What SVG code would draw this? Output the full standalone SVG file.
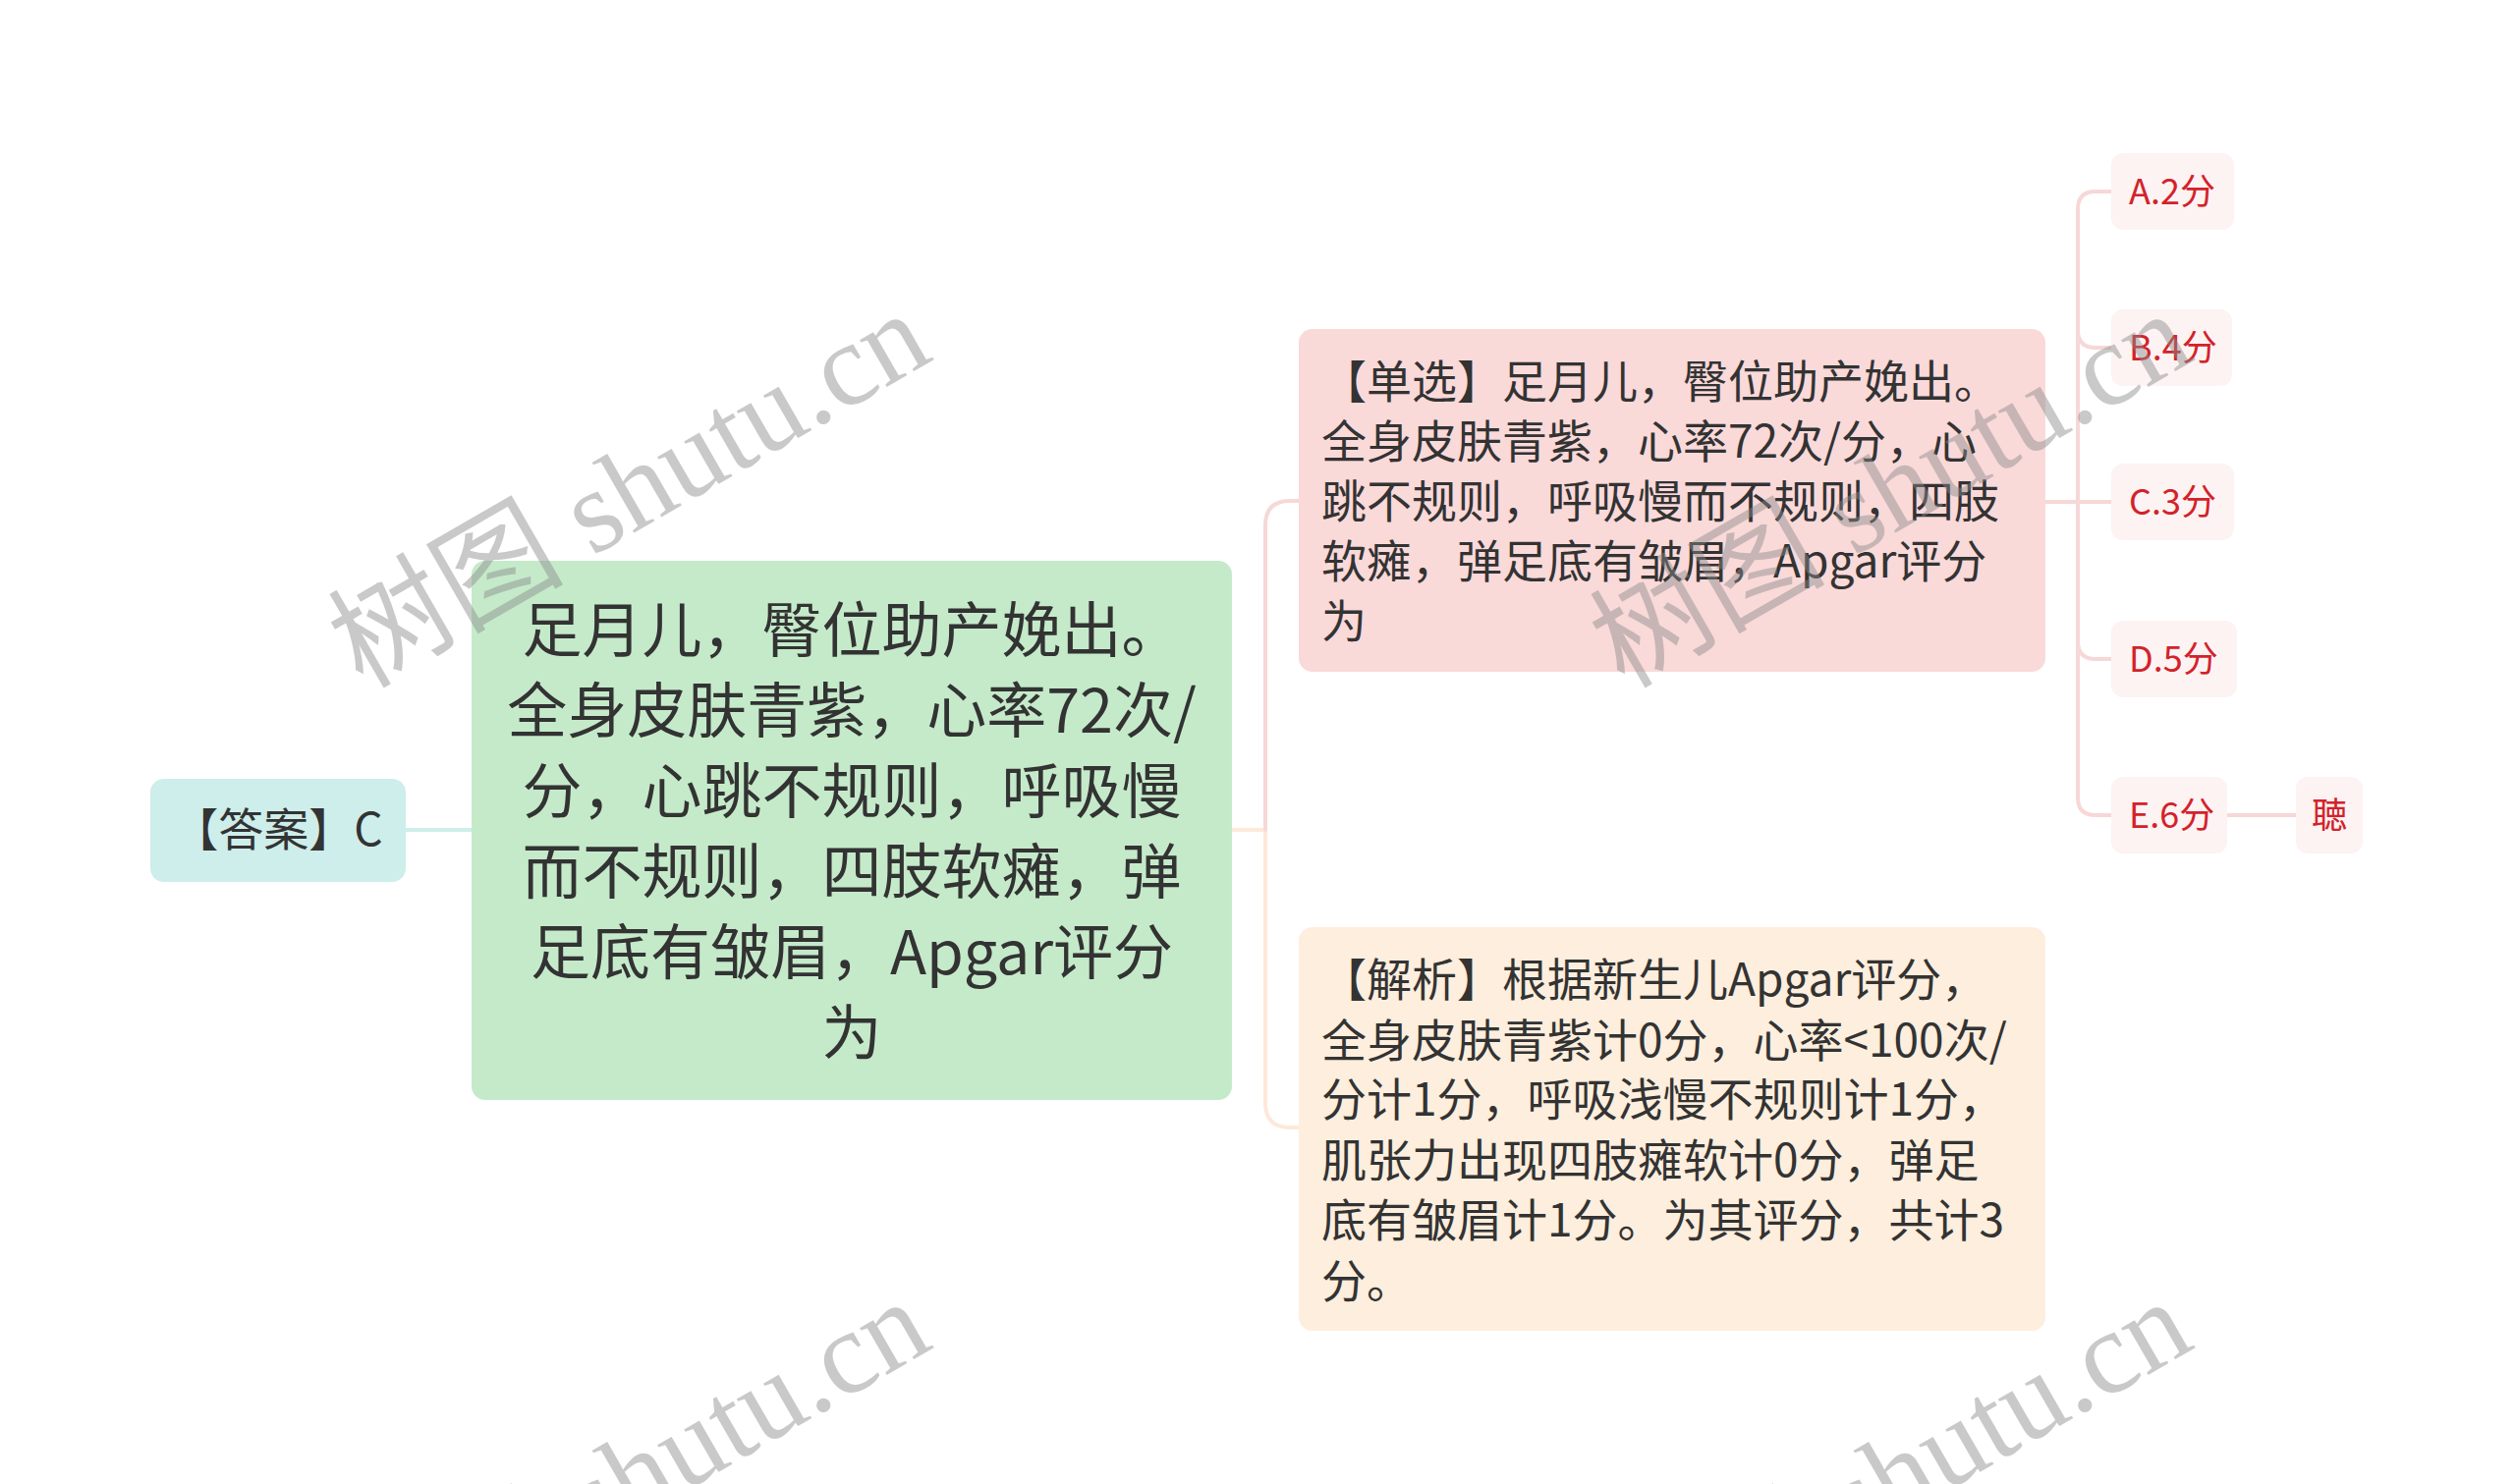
<svg xmlns="http://www.w3.org/2000/svg" width="2560" height="1511" viewBox="0 0 2560 1511">
<style>
.t{font-family:"Noto Sans CJK SC","Noto Sans",sans-serif;fill:#333333}
.main{font-size:61px;text-anchor:middle}
.sub{font-size:46px}
.opt{font-family:"Noto Sans CJK SC","Noto Sans",sans-serif;font-size:36px;fill:#d3222a}
.c{fill:none;stroke-width:4;stroke-linecap:round}
.wm{font-family:"Liberation Serif","Noto Sans CJK SC",serif;font-size:120px;fill:#8a8a8a;opacity:0.45}
.ob{fill:#fdf3f3}
</style>
<rect width="2560" height="1511" fill="#ffffff"/>
<g id="connectors">
<path class="c" stroke="#cdeeea" d="M413 845 H480"/>
<path class="c" stroke="#fde9da" d="M1255 845 H1288 V1123 Q1288 1148 1313 1148 H1322"/>
<path class="c" stroke="#f7d7d7" d="M1288 845 V535 Q1288 510 1313 510 H1322"/>
<path class="c" stroke="#f7d7d7" d="M2082 511 H2149"/>
<path class="c" stroke="#f7d7d7" d="M2149 195 H2133 Q2115 195 2115 213 V812 Q2115 830 2133 830 H2149"/>
<path class="c" stroke="#f7d7d7" d="M2115 336 Q2115 354 2133 354 H2149"/>
<path class="c" stroke="#f7d7d7" d="M2115 653 Q2115 671 2133 671 H2149"/>
<path class="c" stroke="#f7d7d7" d="M2267 830 H2337"/>
</g>
<g id="answer">
<rect x="153" y="793" width="260" height="105" rx="14" fill="#cdeeea"/>
<text class="t sub" x="283" y="861" text-anchor="middle">【答案】C</text>
</g>
<g id="main">
<rect x="480" y="571" width="774" height="549" rx="14" fill="#c5eaca"/>
<text class="t main" x="867" y="664">足月儿，臀位助产娩出。</text>
<text class="t main" x="867" y="746">全身皮肤青紫，心率72次/</text>
<text class="t main" x="867" y="828">分，心跳不规则，呼吸慢</text>
<text class="t main" x="867" y="910">而不规则，四肢软瘫，弹</text>
<text class="t main" x="867" y="992">足底有皱眉，Apgar评分</text>
<text class="t main" x="867" y="1074">为</text>
</g>
<g id="question">
<rect x="1322" y="335" width="760" height="349" rx="14" fill="#fad9d9"/>
<text class="t sub" x="1345" y="405">【单选】足月儿，臀位助产娩出。</text>
<text class="t sub" x="1345" y="466">全身皮肤青紫，心率72次/分，心</text>
<text class="t sub" x="1345" y="527">跳不规则，呼吸慢而不规则，四肢</text>
<text class="t sub" x="1345" y="588">软瘫，弹足底有皱眉，Apgar评分</text>
<text class="t sub" x="1345" y="649">为</text>
</g>
<g id="analysis">
<rect x="1322" y="944" width="760" height="411" rx="14" fill="#fdeedd"/>
<text class="t sub" x="1345" y="1014">【解析】根据新生儿Apgar评分，</text>
<text class="t sub" x="1345" y="1076">全身皮肤青紫计0分，心率&lt;100次/</text>
<text class="t sub" x="1345" y="1136">分计1分，呼吸浅慢不规则计1分，</text>
<text class="t sub" x="1345" y="1198">肌张力出现四肢瘫软计0分，弹足</text>
<text class="t sub" x="1345" y="1259">底有皱眉计1分。为其评分，共计3</text>
<text class="t sub" x="1345" y="1321">分。</text>
</g>
<g id="optA">
<rect class="ob" x="2149" y="156" width="125" height="78" rx="12"/>
<text class="opt" x="2167" y="208">A.2分</text>
</g>
<g id="optB">
<rect class="ob" x="2149" y="315" width="123" height="78" rx="12"/>
<text class="opt" x="2167" y="367">B.4分</text>
</g>
<g id="optC">
<rect class="ob" x="2149" y="472" width="125" height="78" rx="12"/>
<text class="opt" x="2167" y="524">C.3分</text>
</g>
<g id="optD">
<rect class="ob" x="2149" y="632" width="128" height="78" rx="12"/>
<text class="opt" x="2167" y="684">D.5分</text>
</g>
<g id="optE">
<rect class="ob" x="2149" y="791" width="118" height="78" rx="12"/>
<text class="opt" x="2167" y="843">E.6分</text>
</g>
<g id="ting">
<rect class="ob" x="2337" y="791" width="68" height="78" rx="12"/>
<text class="opt" x="2371" y="843" text-anchor="middle">聴</text>
</g>
<g id="watermarks">
<text class="wm" transform="translate(369 702) rotate(-30)">树图 shutu.cn</text>
<text class="wm" transform="translate(1653 702) rotate(-30)">树图 shutu.cn</text>
<text class="wm" transform="translate(369 1708) rotate(-30)">树图 shutu.cn</text>
<text class="wm" transform="translate(1653 1708) rotate(-30)">树图 shutu.cn</text>
</g>
</svg>
